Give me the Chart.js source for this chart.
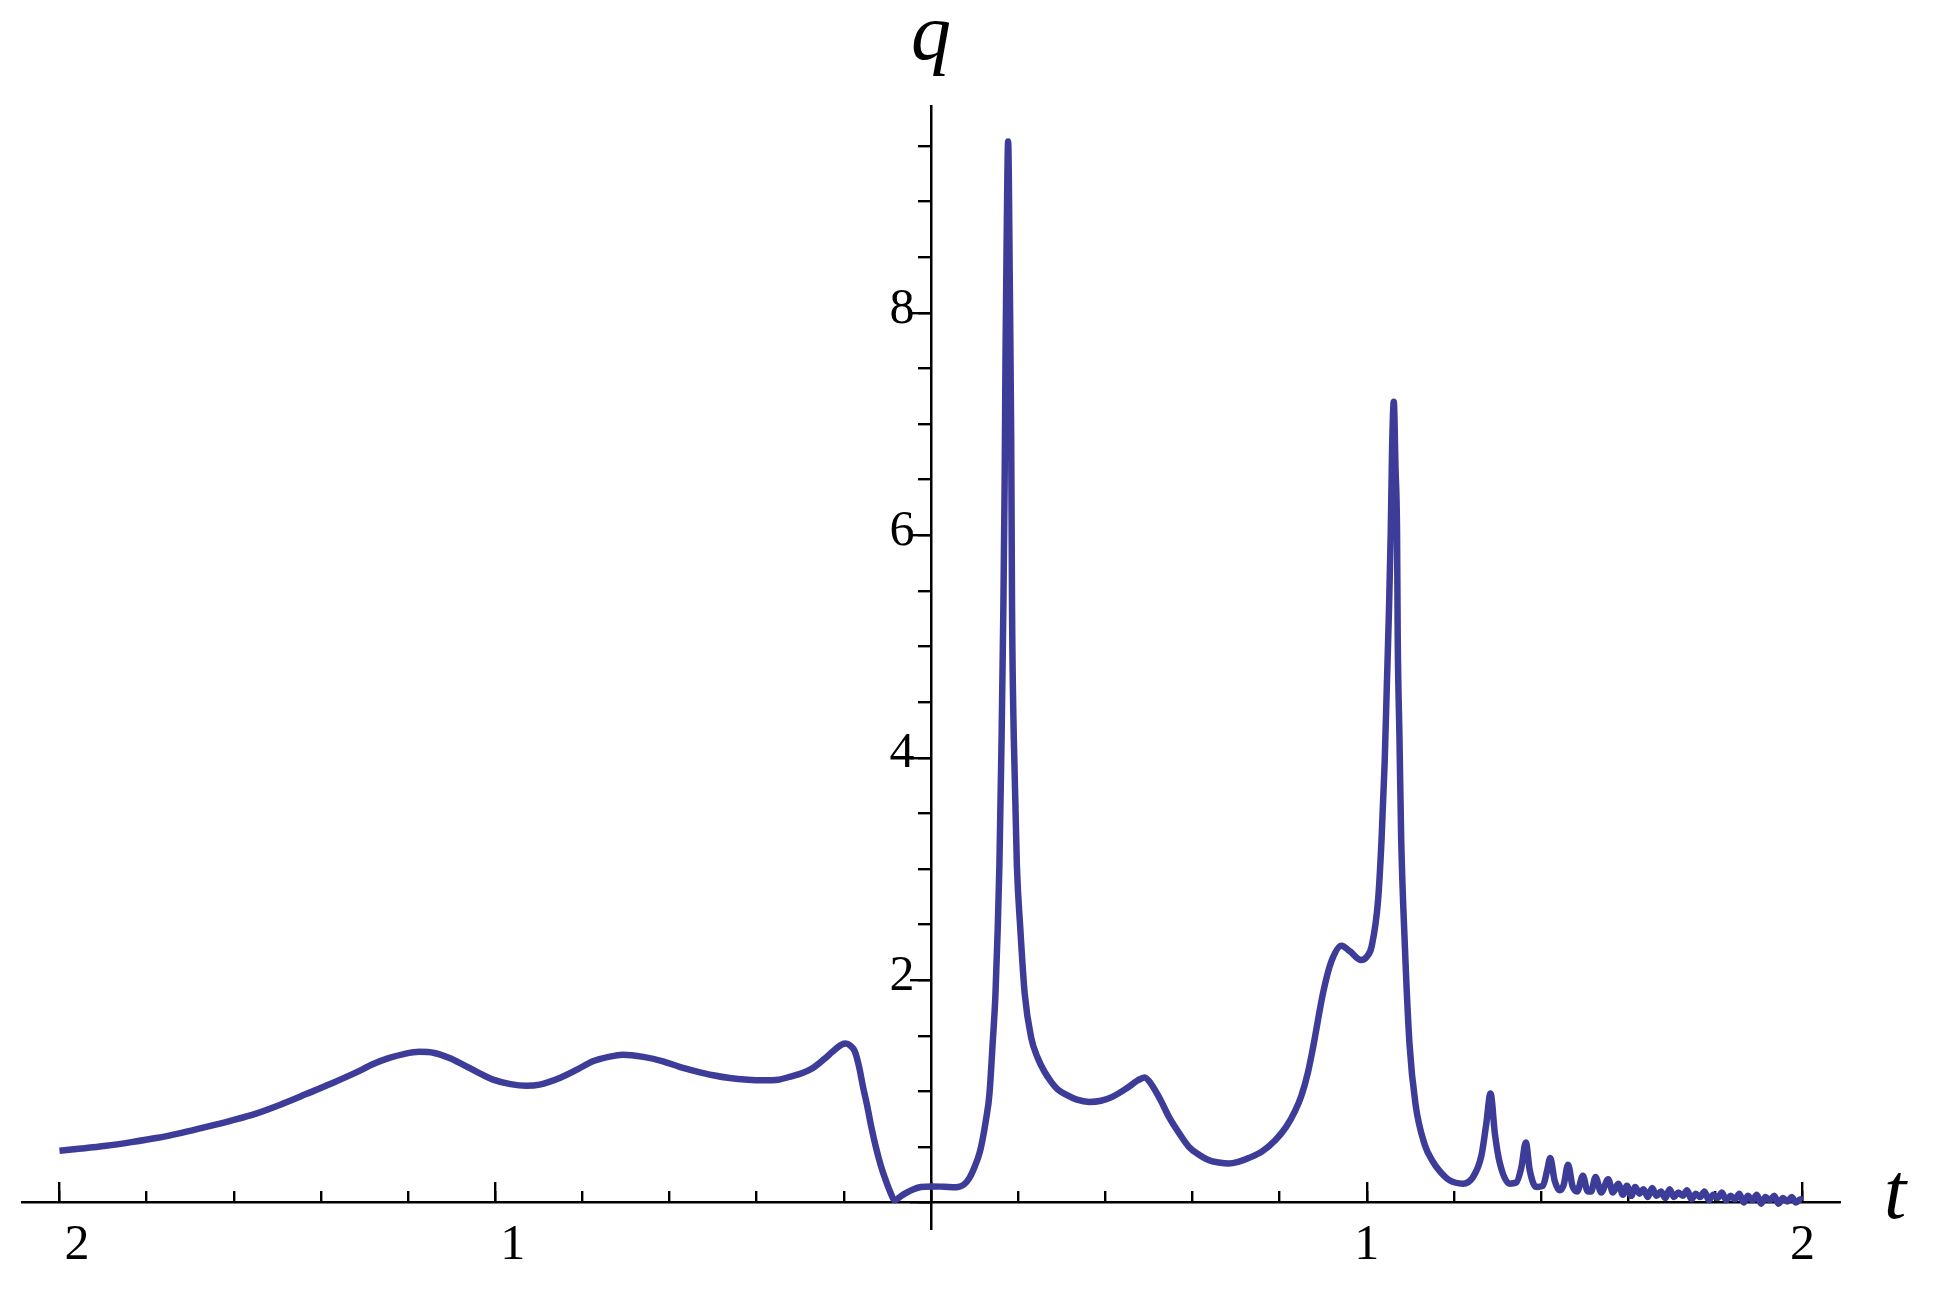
<!DOCTYPE html>
<html>
<head>
<meta charset="utf-8">
<script src="https://cdn.jsdelivr.net/npm/chart.js@4.4.1/dist/chart.umd.min.js"></script>
<style>
html,body{margin:0;padding:0;background:#ffffff;overflow:hidden}
#wrap{width:1935px;height:1292px}
</style>
</head>
<body>
<div id="wrap"><canvas id="c" width="1935" height="1292"></canvas></div>
<script>
// ---- data ----
const tValues = [
  -2.0,-1.95,-1.893,-1.835,-1.778,-1.72,-1.663,-1.606,-1.549,-1.49,-1.434,-1.376,-1.319,-1.28,-1.243,-1.21,-1.174,-1.14,-1.105,-1.074,
  -1.04,-1.005,-0.965,-0.929,-0.898,-0.852,-0.81,-0.776,-0.74,-0.707,-0.66,-0.615,-0.577,-0.539,-0.50,-0.462,-0.42,-0.386,-0.35,-0.325,
  -0.295,-0.271,-0.245,-0.225,-0.205,-0.196,-0.185,-0.175,-0.165,-0.156,-0.147,-0.137,-0.126,-0.115,-0.103,-0.092,-0.084,-0.078,-0.068,-0.058,
  -0.04,-0.023,0.003,0.03,0.057,0.075,0.088,0.10,0.111,0.118,0.126,0.134,0.141,0.148,0.153,0.157,0.162,0.166,0.169,0.171,
  0.174,0.177,0.181,0.184,0.186,0.190,0.197,0.205,0.215,0.23,0.245,0.26,0.275,0.29,0.31,0.335,0.363,0.39,0.416,0.45,0.475,
  0.49,0.508,0.527,0.546,0.57,0.592,0.615,0.638,0.66,0.683,0.705,0.729,0.76,0.79,0.815,0.835,0.85,0.865,0.877,0.90,0.919,0.942,
  0.961,0.987,1.0,1.011,1.026,1.034,1.041,1.046,1.051,1.055,1.058,1.062,1.066,1.0695,1.071,1.075,1.079,1.087,1.098,1.112,
  1.133,1.15,1.167,1.19,1.221,1.244,1.263,1.274,1.284,1.294,1.305,1.328,1.343,1.355,1.365,1.374,1.389,1.404,1.414,1.421,
  1.431,1.443,1.452,1.462,1.472,1.483,1.496,1.507,1.515,1.525,1.538,1.554,1.565,1.577,1.588,1.597,1.607,1.616,1.626,1.635,
  1.645,1.655,1.665,1.675,1.685,1.695,1.705,1.715,1.725,1.735,1.745,1.755,1.765,1.775,1.785,1.795,1.805,1.815,1.825,1.835,
  1.845,1.855,1.865,1.875,1.885,1.895,1.905,1.915,1.925,1.935,1.945,1.955,1.965,1.975,1.985,1.995,2.0
];
const qValues = [
  0.466,0.485,0.51,0.543,0.58,0.627,0.68,0.737,0.80,0.885,0.975,1.07,1.17,1.245,1.30,1.335,1.355,1.345,1.30,1.24,
  1.17,1.105,1.065,1.05,1.06,1.12,1.20,1.27,1.31,1.33,1.31,1.27,1.22,1.18,1.145,1.12,1.105,1.10,1.105,1.13,
  1.165,1.21,1.29,1.36,1.42,1.43,1.41,1.36,1.22,1.04,0.88,0.68,0.49,0.33,0.19,0.08,0.02,0.03,0.06,0.085,
  0.12,0.14,0.145,0.142,0.138,0.16,0.22,0.32,0.44,0.56,0.74,0.97,1.40,1.88,2.45,3.04,4.18,5.33,6.47,7.62,
  8.8,9.54,8.2,6.9,5.33,4.18,3.04,2.46,1.88,1.48,1.30,1.18,1.09,1.02,0.97,0.925,0.905,0.915,0.95,1.03,1.10,
  1.125,1.05,0.92,0.77,0.62,0.50,0.43,0.38,0.36,0.35,0.365,0.40,0.46,0.56,0.68,0.82,0.96,1.17,1.40,1.89,2.17,2.31,
  2.26,2.18,2.21,2.30,2.72,3.27,3.95,4.64,5.33,6.02,6.75,7.20,6.6,6.02,5.10,4.19,3.27,2.35,1.43,0.88,
  0.52,0.38,0.285,0.20,0.17,0.23,0.42,0.70,0.98,0.62,0.36,0.17,0.18,0.32,0.54,0.29,0.14,0.15,0.29,0.40,
  0.20,0.11,0.16,0.34,0.15,0.10,0.24,0.10,0.10,0.23,0.09,0.21,0.09,0.17,0.07,0.15,0.06,0.14,0.08,0.12,
  0.05,0.13,0.06,0.10,0.04,0.12,0.05,0.09,0.06,0.11,0.03,0.08,0.05,0.10,0.02,0.07,0.04,0.09,0.02,0.06,
  0.03,0.08,0.0,0.06,0.02,0.07,-0.01,0.05,0.02,0.06,-0.01,0.04,0.01,0.05,0.0,0.03,0.02
];
const xMajorTicks = [-2, -1, 0, 1, 2];
const xTickLabels = ['2', '1', '', '1', '2'];
const xMinorTicks = [-2,-1.8,-1.6,-1.4,-1.2,-1,-0.8,-0.6,-0.4,-0.2,0,0.2,0.4,0.6,0.8,1,1.2,1.4,1.6,1.8,2];
const yMajorTicks = [0, 2, 4, 6, 8];
const yTickLabels = ['', '2', '4', '6', '8'];
const yMinorTicks = [0,0.5,1,1.5,2,2.5,3,3.5,4,4.5,5,5.5,6,6.5,7,7.5,8,8.5,9,9.5];
const xAxisLabel = 't';
const yAxisLabel = 'q';

// ---- chart ----
const X_MIN = -2.086, X_MAX = 2.086, Y_MIN = -0.238, Y_MAX = 9.854;
const points = tValues.map((t, i) => ({ x: t, y: qValues[i] }));
const tickFont = { family: 'Liberation Serif', size: 50 };

function fixedTicks(values) {
  return function (scale) { scale.ticks = values.map(v => ({ value: v })); };
}
function tickScale(axis, values, len, pos) {
  return {
    type: 'linear', axis: axis, min: axis === 'x' ? X_MIN : Y_MIN, max: axis === 'x' ? X_MAX : Y_MAX,
    bounds: 'data', position: pos,
    afterBuildTicks: fixedTicks(values),
    ticks: { display: false, autoSkip: false },
    grid: { display: true, drawOnChartArea: false, drawTicks: true, tickLength: len, tickWidth: 2.4, tickColor: '#000000', lineWidth: 2.4, color: '#000000' },
    border: { display: false }
  };
}

const axisTitles = {
  id: 'axisTitles',
  afterDraw(chart) {
    const { ctx, scales } = chart;
    const xs = scales.x, ys = scales.y;
    ctx.save();
    ctx.font = 'italic 80px "Liberation Serif"';
    ctx.fillStyle = '#000000';
    ctx.textAlign = 'center';
    ctx.textBaseline = 'alphabetic';
    ctx.fillText(yAxisLabel, xs.getPixelForValue(0), ys.top - 48);
    ctx.fillText(xAxisLabel, xs.right + 55, ys.getPixelForValue(0) + 15);
    ctx.restore();
  }
};

new Chart(document.getElementById('c'), {
  type: 'scatter',
  data: {
    datasets: [{
      data: points,
      showLine: true,
      borderColor: '#3d3d99',
      backgroundColor: '#3d3d99',
      borderWidth: 6.5,
      pointRadius: 0,
      fill: false,
      cubicInterpolationMode: 'monotone',
      xAxisID: 'x',
      yAxisID: 'y'
    }]
  },
  options: {
    responsive: false,
    animation: false,
    devicePixelRatio: 1,
    layout: { padding: { left: 22, right: 95, top: 106.7, bottom: 63 } },
    plugins: { legend: { display: false }, tooltip: { enabled: false } },
    scales: {
      x: {
        type: 'linear', axis: 'x', min: X_MIN, max: X_MAX, bounds: 'data',
        position: { y: 0 },
        afterBuildTicks: fixedTicks(xMajorTicks),
        ticks: {
          autoSkip: false, maxRotation: 0, padding: 13, font: tickFont, color: '#000000',
          callback: function (value) {
            const i = xMajorTicks.indexOf(value);
            const lab = i >= 0 ? xTickLabels[i] : '';
            return value < 0 ? '\u2002\u2009' + lab : lab;
          }
        },
        grid: { display: false, drawTicks: false },
        border: { display: true, color: '#000000', width: 2.5 }
      },
      xMaj: tickScale('x', xMajorTicks, -21, { y: 0 }),
      xMin: tickScale('x', xMinorTicks, -12, { y: 0 }),
      y: {
        type: 'linear', axis: 'y', min: Y_MIN, max: Y_MAX, bounds: 'data',
        position: { x: 0 },
        ticks: { display: false },
        grid: { display: false, drawTicks: false },
        border: { display: true, color: '#000000', width: 2.5 }
      },
      yLab: {
        type: 'linear', axis: 'y', min: Y_MIN, max: Y_MAX, bounds: 'data',
        position: { x: -0.0376 },
        afterBuildTicks: fixedTicks(yMajorTicks),
        ticks: {
          autoSkip: false, font: tickFont, color: '#000000', labelOffset: -3.5,
          callback: function (value) {
            const i = yMajorTicks.indexOf(value);
            return i >= 0 ? yTickLabels[i] : '';
          }
        },
        grid: { display: false, drawTicks: false },
        border: { display: false }
      },
      yMaj: tickScale('y', yMajorTicks, 21, { x: 0 }),
      yMin: tickScale('y', yMinorTicks, 13, { x: 0 })
    }
  },
  plugins: [axisTitles]
});
</script>
</body>
</html>
